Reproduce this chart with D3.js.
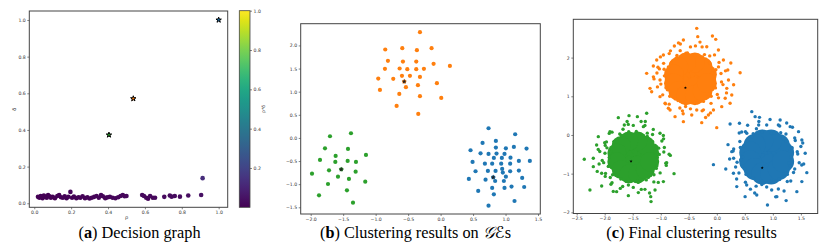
<!DOCTYPE html>
<html><head><meta charset="utf-8">
<script src="https://cdn.jsdelivr.net/npm/d3@7"></script>
<style>body{margin:0;background:#fff}svg{display:block}</style>
</head><body><svg id="c" width="831" height="244"></svg>
<script>
// ---------- (a) Decision graph ----------
const rho   = [0.02,0.028,0.035,0.045,0.052,0.06,0.068,0.075,0.083,0.09,0.1,0.112,0.125,0.135,0.145,0.155,0.165,0.175,0.185,0.196,0.205,0.215,0.228,0.24,0.25,0.262,0.275,0.288,0.3,0.312,0.325,0.338,0.35,0.362,0.372,0.385,0.395,0.41,0.425,0.44,0.455,0.468,0.48,0.49,0.5,0.585,0.595,0.607,0.617,0.628,0.643,0.655,0.705,0.735,0.745,0.762,0.79,0.835,0.905,0.913];
const delta = [0.035,0.03,0.04,0.028,0.042,0.035,0.03,0.045,0.038,0.03,0.035,0.028,0.04,0.045,0.033,0.03,0.038,0.028,0.035,0.062,0.03,0.036,0.028,0.033,0.03,0.038,0.028,0.032,0.026,0.03,0.035,0.04,0.03,0.045,0.038,0.028,0.032,0.035,0.03,0.027,0.033,0.04,0.045,0.038,0.04,0.045,0.04,0.03,0.025,0.04,0.03,0.03,0.035,0.042,0.036,0.04,0.036,0.042,0.045,0.137];
const centerRho   = [1.0, 0.537, 0.405];   // blue, orange, green cluster centres
const centerDelta = [1.0, 0.571, 0.373];
const aTicks = [0.0,0.2,0.4,0.6,0.8,1.0];
const cbarTicks = [0.2,0.4,0.6,0.8,1.0];

// ---------- (b) Clustering results on GEs ----------
const geOrange = [[-0.318,2.287],[-0.852,1.912],[-0.59,1.941],[-0.365,1.898],[-0.139,1.941],[-0.811,1.667],[-0.58,1.652],[-0.375,1.652],[-0.108,1.602],[0.143,1.558],[-0.857,1.494],[-0.631,1.501],[-0.513,1.486],[-0.375,1.486],[-0.257,1.494],[-0.96,1.284],[-0.729,1.277],[-0.595,1.342],[-0.472,1.342],[-0.318,1.32],[-0.56,1.219],[-0.534,1.097],[-0.349,1.14],[-0.057,1.183],[-0.934,1.039],[-0.636,0.952],[-0.318,0.902],[0.01,0.866],[-0.677,0.693],[-0.344,0.519]];
const geGreen = [[-1.38,0.101],[-1.703,0.036],[-1.78,-0.224],[-1.426,-0.238],[-1.616,-0.39],[-1.149,-0.368],[-1.857,-0.476],[-1.621,-0.519],[-1.431,-0.498],[-1.303,-0.519],[-1.98,-0.772],[-1.718,-0.7],[-1.529,-0.678],[-1.308,-0.729],[-1.58,-0.837],[-1.411,-0.887],[-1.734,-0.996],[-1.16,-0.945],[-1.442,-1.133],[-1.872,-1.241],[-1.349,-1.4]];
const geBlue = [[0.738,0.209],[1.148,0.079],[0.646,-0.108],[0.851,-0.065],[0.461,-0.267],[0.851,-0.209],[1.005,-0.224],[1.128,-0.195],[1.323,-0.231],[0.615,-0.332],[0.738,-0.346],[0.861,-0.339],[0.984,-0.346],[0.82,-0.433],[0.943,-0.433],[1.076,-0.426],[0.492,-0.519],[0.682,-0.556],[0.794,-0.556],[0.933,-0.556],[1.071,-0.556],[1.205,-0.498],[1.374,-0.498],[0.538,-0.721],[0.728,-0.714],[0.846,-0.714],[0.948,-0.671],[0.958,-0.75],[1.071,-0.721],[1.205,-0.707],[0.81,-0.851],[1.005,-0.837],[0.435,-0.887],[0.692,-0.902],[0.84,-0.931],[0.974,-0.931],[1.256,-0.866],[0.579,-1.147],[0.794,-1.082],[0.984,-1.082],[1.092,-1.053],[1.287,-1.061],[0.82,-1.219],[1.138,-1.364],[0.738,-1.465]];
const centerX = [0.81,-0.56,-1.53];
const centerY = [-0.85,1.22,-0.68];
const bXTicks = [-2.0,-1.5,-1.0,-0.5,0.0,0.5,1.0,1.5];
const bYTicks = [-1.5,-1.0,-0.5,0.0,0.5,1.0,1.5,2.0];

// ---------- (c) Final clustering results ----------
// dense (saturated) part of each cloud
const finalBlueCore = [[0.89,-0.57],[1.051,-0.57],[0.97,-0.369],[0.81,-0.369],[0.729,-0.57],[0.81,-0.771],[0.97,-0.771],[1.183,-0.456],[1.105,-0.259],[0.969,-0.146],[0.811,-0.146],[0.675,-0.259],[0.597,-0.456],[0.597,-0.684],[0.675,-0.881],[0.811,-0.994],[0.969,-0.994],[1.105,-0.881],[1.183,-0.684]];
const finalOrangeCore = [[-0.47,1.45],[-0.309,1.45],[-0.39,1.651],[-0.55,1.651],[-0.631,1.45],[-0.55,1.249],[-0.39,1.249],[-0.177,1.564],[-0.255,1.761],[-0.391,1.874],[-0.549,1.874],[-0.685,1.761],[-0.763,1.564],[-0.763,1.336],[-0.685,1.139],[-0.549,1.026],[-0.391,1.026],[-0.255,1.139],[-0.177,1.336]];
const finalGreenCore = [[-1.49,-0.58],[-1.329,-0.58],[-1.41,-0.379],[-1.57,-0.379],[-1.651,-0.58],[-1.57,-0.781],[-1.41,-0.781],[-1.197,-0.466],[-1.275,-0.269],[-1.411,-0.156],[-1.569,-0.156],[-1.705,-0.269],[-1.783,-0.466],[-1.783,-0.694],[-1.705,-0.891],[-1.569,-1.004],[-1.411,-1.004],[-1.275,-0.891],[-1.197,-0.694]];
// individual points around the dense part
const finalBlue = [[1.319,-0.57],[1.343,-0.331],[1.232,-0.155],[1.14,0.057],[0.965,0.041],[0.809,0.092],[0.649,0.034],[0.548,-0.155],[0.42,-0.323],[0.461,-0.57],[0.454,-0.8],[0.521,-1.019],[0.667,-1.129],[0.803,-1.283],[0.965,-1.181],[1.122,-1.152],[1.259,-1.019],[1.31,-0.791],
[1.435,-0.431],[1.4,-0.144],[1.234,0.024],[1.098,0.256],[0.89,0.257],[0.707,0.159],[0.511,0.083],[0.411,-0.169],[0.292,-0.417],[0.362,-0.705],[0.395,-0.983],[0.511,-1.223],[0.701,-1.323],[0.89,-1.345],[1.098,-1.396],[1.257,-1.203],[1.369,-0.971],[1.47,-0.718],
[1.283,-0.725],[1.336,-0.337],[1.229,-0.983],[1.104,-1.138],[0.836,-1.242],[0.64,-1.113],[0.497,-0.88],[0.426,-0.648],[0.479,-0.286],[0.622,-0.053],[0.801,0.076],[1.015,0.05],[1.194,-0.105],[1.39,-0.88],[1.444,-0.492],[1.319,-1.19],[0.979,-1.423],[0.533,-1.294],[0.336,-0.828],[0.301,-0.363],[0.444,0.076],[0.747,0.257],[1.122,0.231],[1.39,-0.079],[1.515,-0.777],[0.676,-1.5],[0.229,-0.622],[1.247,0.309],[1.533,-0.208],[0.354,-1.138],
[-0.06,-0.767],[0.16,-0.879],[0.237,0.284],[0.404,0.301],[0.624,0.603],[0.684,0.473],[0.761,0.456],[0.904,-1.809],[1.237,-1.697],[1.606,-0.974],[1.577,-0.474],[1.517,-0.13],[1.309,0.215],[1.13,0.387],[0.267,-0.431],[0.297,-0.991],[0.356,-1.335],[0.505,-1.594],[0.713,-1.551],[1.071,-1.594],[1.428,-1.465],[1.517,-1.206],[0.535,0.043],[1.458,0.086],
[1.5,-0.3],[0.3,-0.6],[1.55,-0.75],[0.4,0.05],[1.2,-1.45],[0.6,-1.4],[0.95,0.4],[0.2,-0.25],[1.35,0.2],[0.75,0.35],[1.05,-1.6],[0.55,0.25]];
const finalOrange = [[-0.041,1.45],[-0.017,1.689],[-0.128,1.865],[-0.22,2.077],[-0.395,2.061],[-0.551,2.112],[-0.711,2.054],[-0.812,1.865],[-0.94,1.697],[-0.899,1.45],[-0.906,1.22],[-0.839,1.001],[-0.693,0.891],[-0.557,0.737],[-0.395,0.839],[-0.238,0.868],[-0.101,1.001],[-0.05,1.229],
[0.075,1.589],[0.04,1.876],[-0.126,2.044],[-0.262,2.276],[-0.47,2.277],[-0.653,2.179],[-0.849,2.103],[-0.949,1.851],[-1.068,1.603],[-0.998,1.315],[-0.965,1.037],[-0.849,0.797],[-0.659,0.697],[-0.47,0.675],[-0.262,0.624],[-0.103,0.817],[0.009,1.049],[0.11,1.302],
[-0.077,1.605],[-0.024,1.217],[-0.131,1.863],[-0.256,2.018],[-0.524,2.122],[-0.72,1.993],[-0.863,1.76],[-0.934,1.528],[-0.881,1.166],[-0.738,0.933],[-0.559,0.804],[-0.345,0.83],[-0.166,0.985],[0.03,1.76],[0.084,1.372],[-0.041,2.07],[-0.381,2.303],[-0.827,2.174],[-1.024,1.708],[-1.059,1.243],[-0.916,0.804],[-0.613,0.623],[-0.238,0.649],[0.03,0.959],[0.155,1.657],[-0.684,2.38],[-1.131,1.502],[-0.113,0.571],[0.173,1.088],[-1.006,2.018],
[-0.358,2.756],[-0.34,2.541],[-0.078,2.558],[-0.019,2.472],[-0.596,2.454],[-0.757,2.299],[0.118,1.938],[0.196,1.679],[0.416,1.61],[-1.251,1.593],[-1.132,1.783],[-1.072,1.938],[-1.191,1.205],[-1.162,1.119],[-1.013,0.99],[-0.923,0.818],[-0.864,0.689],[-0.745,0.473],[-0.596,0.344],[-0.269,0.318],[-0.15,0.516],[-0.001,0.189],[0.088,0.732],[0.237,0.818],[0.267,1.033],[0.178,1.205],[0.208,1.421],[-0.447,0.516],[-0.06,0.646],[-0.179,2.282],[0.029,2.196],[-1.013,1.421],[-0.953,2.067],[-0.834,0.646],[-0.358,0.646],
[0.25,1.86],[-1.12,1.45],[-0.6,0.55],[-0.2,0.45],[0.15,0.95],[-1.05,1.75],[-0.3,2.4],[-0.65,2.35],[0.3,1.3]];
const finalGreen = [[-1.061,-0.58],[-1.037,-0.341],[-1.148,-0.165],[-1.24,0.047],[-1.415,0.031],[-1.571,0.082],[-1.731,0.024],[-1.832,-0.165],[-1.96,-0.333],[-1.919,-0.58],[-1.926,-0.81],[-1.859,-1.029],[-1.713,-1.139],[-1.577,-1.293],[-1.415,-1.191],[-1.258,-1.162],[-1.121,-1.029],[-1.07,-0.801],
[-0.945,-0.441],[-0.98,-0.154],[-1.146,0.014],[-1.282,0.246],[-1.49,0.247],[-1.673,0.149],[-1.869,0.073],[-1.969,-0.179],[-2.088,-0.427],[-2.018,-0.715],[-1.985,-0.993],[-1.869,-1.233],[-1.679,-1.333],[-1.49,-1.355],[-1.282,-1.406],[-1.123,-1.213],[-1.011,-0.981],[-0.91,-0.728],
[-1.883,-0.425],[-1.936,-0.813],[-1.829,-0.167],[-1.704,-0.012],[-1.436,0.092],[-1.24,-0.037],[-1.097,-0.27],[-1.026,-0.502],[-1.079,-0.864],[-1.222,-1.097],[-1.401,-1.226],[-1.615,-1.2],[-1.794,-1.045],[-1.99,-0.27],[-2.044,-0.658],[-1.919,0.04],[-1.579,0.273],[-1.133,0.144],[-0.936,-0.322],[-0.901,-0.787],[-1.044,-1.226],[-1.347,-1.407],[-1.722,-1.381],[-1.99,-1.071],[-2.115,-0.373],[-1.276,0.35],[-0.829,-0.528],[-1.847,-1.459],[-2.133,-0.942],[-0.954,-0.012],
[-2.364,-0.629],[-2.263,-1.422],[-0.763,-1.0],[-1.173,-1.723],[-1.179,-1.594],[-1.757,0.448],[-1.566,0.499],[-1.417,0.474],[-1.251,0.56],[-2.114,-0.043],[-2.144,-0.259],[-2.203,-0.603],[-2.054,-0.991],[-2.054,-1.318],[-1.888,-1.275],[-1.578,-1.568],[-1.4,-1.49],[-0.953,-1.206],[-0.894,-0.715],[-1.072,-0.302],[-1.013,0.043],[-1.906,0.086],[-1.995,-0.474],[-1.31,0.215],[-1.65,0.258],[-1.102,-1.422],[-1.787,-1.465],[-2.203,-0.819],
[-0.85,-0.5],[-2.1,-0.75],[-1.6,0.35],[-1.2,-1.5],[-1.9,-1.1],[-0.95,-0.1],[-2.0,-0.2],[-1.35,0.35]];
const cXTicks = [-2.5,-2.0,-1.5,-1.0,-0.5,0.0,0.5,1.0,1.5];
const cYTicks = [-2,-1,0,1,2];

const captions = ["Decision graph","Clustering results on ","Final clustering results"];

// ---------- drawing ----------
const C = {blue:"#1f77b4", orange:"#ff7f0e", green:"#2ca02c"};
const clusterColors = [C.blue, C.orange, C.green];
const svg = d3.select("#c");
svg.append("rect").attr("width",831).attr("height",244).attr("fill","#fff");
const TF = "DejaVu Sans";

function axes(g, xs, ys, xt, yt, xf, yf, box){
  const xa = g.append("g").attr("transform",`translate(0,${box.b})`)
    .call(d3.axisBottom(xs).tickValues(xt).tickFormat(xf).tickSize(2).tickPadding(1.6));
  const ya = g.append("g").attr("transform",`translate(${box.l},0)`)
    .call(d3.axisLeft(ys).tickValues(yt).tickFormat(yf).tickSize(2).tickPadding(1.6));
  [xa,ya].forEach(a=>{
    a.select(".domain").remove();
    a.selectAll("line").attr("stroke","#333").attr("stroke-width",0.6);
    a.selectAll("text").attr("font-size",4.6).attr("font-family",TF).attr("fill","#333");
  });
  g.append("rect").attr("x",box.l).attr("y",box.t).attr("width",box.r-box.l).attr("height",box.b-box.t)
    .attr("fill","none").attr("stroke","#444").attr("stroke-width",1);
}
const f1 = d3.format(".1f");

// Panel a
{
  const box = {l:29.3, r:227.7, t:11, b:207.3};
  const g = svg.append("g");
  const x = d3.scaleLinear().domain([-0.027,1.049]).range([box.l,box.r]);
  const y = d3.scaleLinear().domain([-0.022,1.049]).range([box.b,box.t]);
  const col = v => d3.interpolateViridis(v);
  g.selectAll("circle.p").data(rho.map((r,i)=>({r, d:delta[i]}))).join("circle")
    .attr("cx",d=>x(d.r)).attr("cy",d=>y(d.d)).attr("r",2.3).attr("fill",d=>col(d.r*d.d));
  const star = d3.symbol().type(d3.symbolStar).size(9);
  g.selectAll("path.s").data(centerRho.map((r,i)=>({r,d:centerDelta[i],i}))).join("path")
    .attr("d",star).attr("transform",d=>`translate(${x(d.r)},${y(d.d)})`)
    .attr("fill",d=>clusterColors[d.i]).attr("stroke","#000").attr("stroke-width",1);
  axes(g, x, y, aTicks, aTicks, f1, f1, box);
  g.append("text").attr("x",x(0.5)).attr("y",219).attr("text-anchor","middle")
    .attr("font-family",TF).attr("font-size",5).attr("fill","#333").text("ρ");
  g.append("text").attr("transform",`translate(16,${(box.t+box.b)/2}) rotate(-90)`).attr("text-anchor","middle")
    .attr("font-family",TF).attr("font-size",5).attr("fill","#333").text("δ");

  // colorbar
  const cb = {l:239.3, r:250, t:10.7, b:207.3};
  const cy = d3.scaleLinear().domain([0,1]).range([cb.b,cb.t]);
  const defs = svg.append("defs");
  const lg = defs.append("linearGradient").attr("id","vir").attr("x1",0).attr("y1",1).attr("x2",0).attr("y2",0);
  d3.range(0,1.0001,0.05).forEach(t=>lg.append("stop").attr("offset",t).attr("stop-color",d3.interpolateViridis(t)));
  g.append("rect").attr("x",cb.l).attr("y",cb.t).attr("width",cb.r-cb.l).attr("height",cb.b-cb.t)
    .attr("fill","url(#vir)").attr("stroke","#444").attr("stroke-width",0.8);
  const ca = g.append("g").attr("transform",`translate(${cb.r},0)`)
    .call(d3.axisRight(cy).tickValues(cbarTicks).tickFormat(f1).tickSize(2).tickPadding(1.6));
  ca.select(".domain").remove();
  ca.selectAll("line").attr("stroke","#333").attr("stroke-width",0.6);
  ca.selectAll("text").attr("font-size",4.6).attr("font-family",TF).attr("fill","#333");
  g.append("text").attr("transform",`translate(265,${(cb.t+cb.b)/2}) rotate(-90)`).attr("text-anchor","middle")
    .attr("font-family",TF).attr("font-size",4.6).attr("fill","#333").text("ρ*δ");
}

// Panel b
{
  const box = {l:300.7, r:540.3, t:23.7, b:214};
  const g = svg.append("g");
  const x = d3.scaleLinear().domain([-2.154,1.535]).range([box.l,box.r]);
  const y = d3.scaleLinear().domain([-1.645,2.47]).range([box.b,box.t]);
  [[geBlue,C.blue],[geOrange,C.orange],[geGreen,C.green]].forEach(([pts,c])=>{
    g.append("g").selectAll("circle").data(pts).join("circle")
      .attr("cx",d=>x(d[0])).attr("cy",d=>y(d[1])).attr("r",2.1).attr("fill",c);
  });
  const star = d3.symbol().type(d3.symbolStar).size(8);
  g.selectAll("path.s").data(centerX.map((v,i)=>[v,centerY[i]])).join("path")
    .attr("d",star).attr("transform",d=>`translate(${x(d[0])},${y(d[1])})`).attr("fill","#222");
  axes(g, x, y, bXTicks, bYTicks, f1, f1, box);
}

// Panel c
{
  const box = {l:573.3, r:817.7, t:19.3, b:213.5};
  const g = svg.append("g");
  const x = d3.scaleLinear().domain([-2.56,1.80]).range([box.l,box.r]);
  const y = d3.scaleLinear().domain([-2.03,2.99]).range([box.b,box.t]);
  [[finalBlueCore,finalBlue,C.blue,11],[finalOrangeCore,finalOrange,C.orange,10],[finalGreenCore,finalGreen,C.green,9.5]].forEach(([core,pts,c,rc])=>{
    const gg = g.append("g");
    gg.selectAll("circle.k").data(core).join("circle").attr("class","k")
      .attr("cx",d=>x(d[0])).attr("cy",d=>y(d[1])).attr("r",rc).attr("fill",c);
    gg.selectAll("circle.e").data(pts).join("circle").attr("class","e")
      .attr("cx",d=>x(d[0])).attr("cy",d=>y(d[1])).attr("r",1.7).attr("fill",c);
  });
  const star = d3.symbol().type(d3.symbolStar).size(3);
  g.selectAll("path.s").data(centerX.map((v,i)=>[v,centerY[i]])).join("path")
    .attr("d",star).attr("transform",d=>`translate(${x(d[0])},${y(d[1])})`).attr("fill","#000");
  axes(g, x, y, cXTicks, cYTicks, f1, d3.format("d"), box);
}

// captions
const capF = "Liberation Serif";
const cap = (cx, lab, txt, extra) => {
  const t = svg.append("text").attr("x",cx).attr("y",237.5).attr("text-anchor","middle")
    .attr("font-family",capF).attr("font-size",16.3).attr("fill","#000");
  t.append("tspan").text("(");
  t.append("tspan").attr("font-weight","bold").text(lab);
  t.append("tspan").text(") " + txt);
  if (extra) extra(t);
};
cap(139.5, "a", captions[0]);
cap(415.5, "b", captions[1], t=>{
  t.append("tspan").attr("font-family","DejaVu Serif, DejaVu Sans").attr("font-style","italic").text("𝒢ℰ");
  t.append("tspan").text("s");
});
cap(691.5, "c", captions[2]);
</script>
</body></html>
